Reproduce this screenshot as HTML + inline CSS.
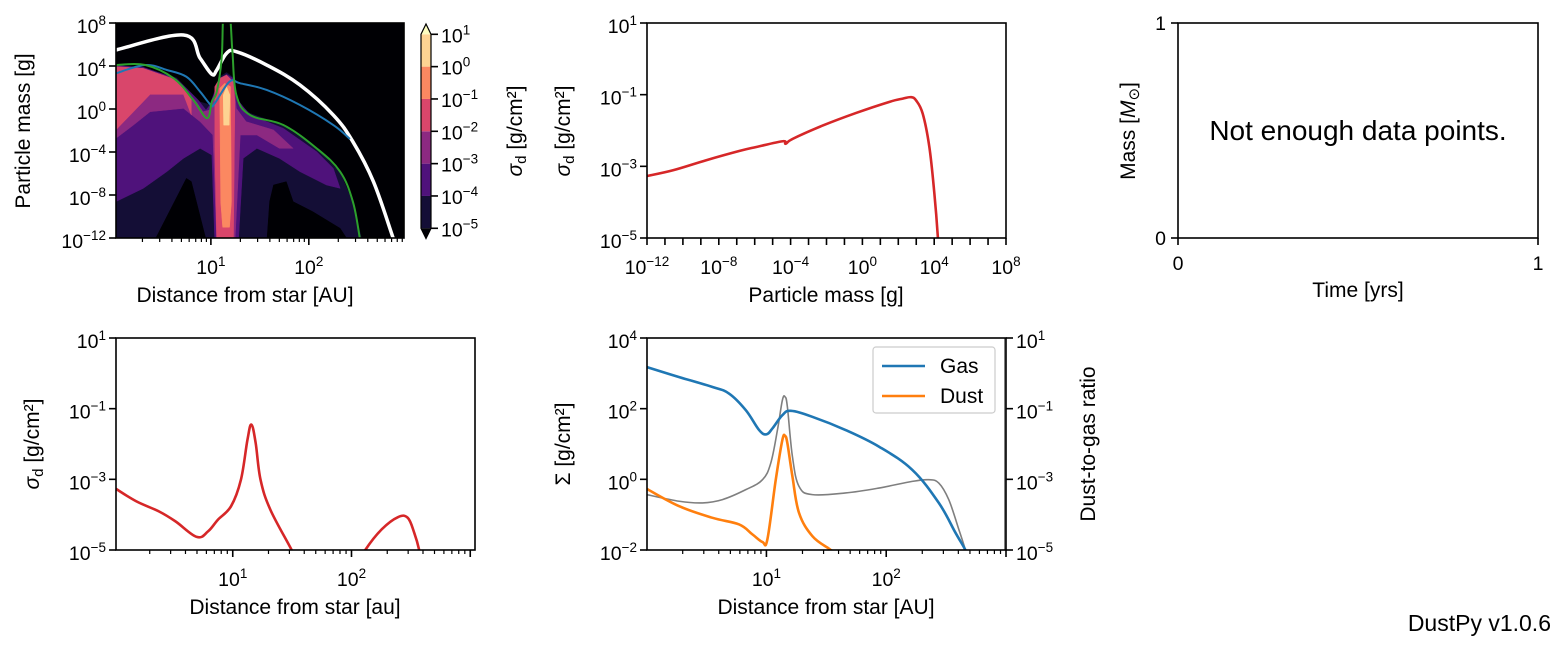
<!DOCTYPE html>
<html><head><meta charset="utf-8">
<style>
html,body{margin:0;padding:0;background:#fff;}
svg{display:block;font-family:"Liberation Sans","DejaVu Sans",sans-serif;}
</style></head>
<body>
<svg id="fig" width="1566" height="649" viewBox="0 0 1566 649" xmlns="http://www.w3.org/2000/svg">
<defs>
<clipPath id="c1"><rect x="116" y="23" width="288" height="215"/></clipPath>
<clipPath id="c2"><rect x="647" y="23" width="359" height="215"/></clipPath>
<clipPath id="c4"><rect x="116" y="338" width="359" height="212"/></clipPath>
<clipPath id="c5"><rect x="647" y="338" width="359" height="212"/></clipPath>
</defs>
</svg>
<script>
// ---------- data (log10 values) ----------
const levNavy = [[0.03,4.1],[0.31,3.8],[0.65,2.9],[0.89,0.65],[0.99,0.4],[1.09,3.0],[1.16,3.4],[1.22,3.0],[1.27,0.65],[1.40,-0.4],[1.73,-1.5],[2.08,-3.6],[2.32,-5.9],[2.45,-8.7],[2.55,-12.5],[-0.1,-12.5],[-0.1,4.1]];
const levHole1 = [[0.41,-12.5],[0.75,-6.45],[0.80,-6.75],[0.96,-12.5]];
const levHole2 = [[1.57,-12.5],[1.60,-8.6],[1.64,-7.07],[1.77,-6.76],[1.84,-8.62],[2.04,-9.55],[2.32,-11.1],[2.42,-12.5]];
const levPurple = [[-0.1,4.03],[0.03,4.03],[0.31,3.88],[0.65,2.79],[0.87,0.84],[0.95,-0.09],[0.99,0.37],[1.04,1.61],[1.09,2.85],[1.16,3.22],[1.23,2.85],[1.26,0.99],[1.40,-0.56],[1.74,-1.80],[2.08,-3.97],[2.25,-5.52],[2.32,-7.38],[2.18,-7.07],[1.91,-5.83],[1.70,-4.59],[1.47,-3.66],[1.33,-4.59],[1.28,-12.5],[1.04,-12.5],[1.01,-4.28],[0.89,-3.66],[0.72,-4.59],[0.55,-5.83],[0.31,-7.38],[0.03,-8.62],[-0.1,-8.62]];
const levMagenta = [[-0.1,3.94],[0.03,3.94],[0.31,3.78],[0.65,2.70],[0.85,0.68],[0.92,-0.25],[0.99,-0.09],[1.02,0.99],[1.09,2.54],[1.16,3.01],[1.23,2.54],[1.26,0.06],[1.36,-1.18],[1.64,-1.95],[1.84,-3.66],[1.70,-3.66],[1.47,-2.42],[1.30,-2.42],[1.245,-12.5],[1.06,-12.5],[1.02,-2.42],[0.89,-1.18],[0.72,0.06],[0.38,-0.25],[0.21,-1.49],[0.03,-2.73],[-0.1,-2.73]];
const levPinkLeft = [[-0.1,3.94],[0.03,3.94],[0.31,3.78],[0.65,2.70],[0.80,1.0],[0.80,-0.56],[0.72,1.36],[0.38,1.36],[0.21,-0.25],[0.03,-1.95],[-0.1,-1.95]];
const levPinkSpike = [[1.04,-3.66],[1.04,2.08],[1.09,2.85],[1.16,3.16],[1.23,2.54],[1.245,0.68],[1.23,-12.5],[1.06,-12.5]];
const levOrange = [[1.09,1.92],[1.14,2.39],[1.20,2.08],[1.21,-8.62],[1.19,-11],[1.12,-11],[1.10,-8.62]];
const levPale = [[1.126,1.3],[1.16,2.08],[1.194,1.3],[1.187,-1.5],[1.13,-1.5]];
const lineWhite = [[0.03,5.49],[0.72,6.88],[0.89,4.72],[1.01,3.23],[1.06,3.63],[1.16,5.18],[1.26,5.33],[1.57,4.09],[1.91,2.23],[2.25,-0.56],[2.45,-3.04],[2.66,-6.76],[2.86,-11.97],[2.9,-13]];
const lineBlue = [[0.03,3.32],[0.33,4.09],[0.55,3.63],[0.75,3.0],[0.89,1.61],[1.0,0.37],[1.04,0.53],[1.19,2.54],[1.30,2.39],[1.57,1.77],[1.91,0.37],[2.25,-1.49],[2.42,-2.79]];
const lineGreen = [[0.03,4.09],[0.33,4.09],[0.62,2.85],[0.82,0.84],[0.96,-0.86],[1.01,0.68],[1.06,1.61],[1.11,4.72],[1.13,9],[1.19,9],[1.22,5.33],[1.26,1.3],[1.40,-0.56],[1.74,-1.49],[2.08,-3.66],[2.32,-5.83],[2.45,-8.62],[2.52,-11.97],[2.54,-13]];
const massLog = [-12,-10.55,-8.70,-6.84,-5.91,-4.43,-4.28,-3.87,-2.20,-0.35,1.51,2.25,2.71,2.99,3.36,3.73,4.01,4.20,4.25];
const sigmaMass = [-3.27,-3.11,-2.83,-2.57,-2.46,-2.30,-2.37,-2.23,-1.86,-1.51,-1.20,-1.11,-1.07,-1.16,-1.53,-2.46,-3.76,-4.95,-5.6];
const radLog4 = [0.017,0.187,0.38,0.518,0.697,0.793,0.876,0.986,1.069,1.124,1.157,1.193,1.234,1.317,1.496,1.53,null,2.08,2.116,2.253,2.391,2.474,2.529,2.570,2.58];
const sigmaRad = [-3.27,-3.62,-3.91,-4.19,-4.63,-4.47,-4.14,-3.76,-3.01,-1.88,-1.45,-1.97,-3.01,-3.86,-5.0,-5.3,null,-5.3,-5.0,-4.42,-4.07,-4.09,-4.52,-5.0,-5.3];
const radGas = [0.003,0.272,0.55,0.689,0.828,0.939,1.0,1.05,1.133,1.203,1.383,1.661,1.939,2.217,2.439,2.578,2.661,2.68];
const sigGas = [3.175,2.894,2.613,2.425,1.957,1.395,1.273,1.441,1.816,1.938,1.77,1.395,0.926,0.27,-0.667,-1.51,-2.0,-2.2];
const radDust = [0.003,0.272,0.55,0.772,0.883,0.967,1.008,1.078,1.133,1.156,1.175,1.217,1.272,1.383,1.522,1.55,1.6];
const sigDust = [-0.274,-0.761,-1.089,-1.277,-1.558,-1.773,-1.698,-0.011,1.113,1.226,1.02,0.082,-0.949,-1.605,-1.961,-2.03,-2.2];
const radRatio = [0.003,0.272,0.467,0.633,0.828,0.967,1.036,1.092,1.133,1.156,1.175,1.217,1.272,1.383,1.661,1.939,2.217,2.356,2.439,2.522,2.606,2.661,2.68,null,2.99,2.99];
const ratioLog = [-3.433,-3.62,-3.667,-3.574,-3.292,-3.011,-2.543,-1.605,-0.762,-0.668,-0.95,-2.355,-3.199,-3.433,-3.386,-3.246,-3.058,-3.011,-3.105,-3.574,-4.417,-5.0,-5.3,null,-6,2];
const cbLevels = [-5,-4,-3,-2,-1,0,1];
const cbColors = ['#140e36','#4f127b','#8c2981','#d9466b','#fb8861','#fdd392'];

// ---------- helpers ----------
const NS='http://www.w3.org/2000/svg';
const svg=document.getElementById('fig');
const TF=19.5, SF=13.5, LF=21;
function mk(tag,attrs,parent){const e=document.createElementNS(NS,tag);for(const k in attrs)e.setAttribute(k,attrs[k]);(parent||svg).appendChild(e);return e;}
function lin(d0,d1,p0,p1){return v=>p0+(v-d0)/(d1-d0)*(p1-p0);}
function smoothSeg(pts){
  if(pts.length<3)return pts.map((p,i)=>(i?'L':'M')+p[0].toFixed(2)+','+p[1].toFixed(2)).join('');
  let d='M'+pts[0][0].toFixed(2)+','+pts[0][1].toFixed(2);
  for(let i=0;i<pts.length-1;i++){
    const p0=pts[Math.max(0,i-1)],p1=pts[i],p2=pts[i+1],p3=pts[Math.min(pts.length-1,i+2)];
    const t=0.18;
    const c1=[p1[0]+(p2[0]-p0[0])*t,p1[1]+(p2[1]-p0[1])*t];
    const c2=[p2[0]-(p3[0]-p1[0])*t,p2[1]-(p3[1]-p1[1])*t];
    d+='C'+c1[0].toFixed(2)+','+c1[1].toFixed(2)+' '+c2[0].toFixed(2)+','+c2[1].toFixed(2)+' '+p2[0].toFixed(2)+','+p2[1].toFixed(2);
  }
  return d;
}
function pathFrom(xs,ys,X,Y){let d='',seg=[];for(let i=0;i<xs.length;i++){if(xs[i]===null){d+=smoothSeg(seg);seg=[];continue;}seg.push([X(xs[i]),Y(ys[i])]);}if(seg.length)d+=smoothSeg(seg);return d;}
function polyFrom(pts,X,Y){return pts.map((p,i)=>(i?'L':'M')+X(p[0]).toFixed(2)+','+Y(p[1]).toFixed(2)).join('')+'Z';}
function pow10Label(x,y,exp,anchor,g){
  const t=mk('text',{x:x,y:y,'text-anchor':anchor,'font-size':TF,fill:'#000'},g);
  t.appendChild(document.createTextNode('10'));
  const s=mk('tspan',{dy:'-8','font-size':SF},t);s.textContent=(exp<0?'\u2212'+(-exp):String(exp));
  return t;
}
function frame(x0,y0,x1,y1,g){mk('rect',{x:x0,y:y0,width:x1-x0,height:y1-y0,fill:'none',stroke:'#000','stroke-width':'1.6'},g);}
function xLogTicks(X,lo,hi,yb,labels,g,minor){
  for(let d=Math.floor(lo);d<=Math.ceil(hi);d++){
    if(d>=lo-1e-6&&d<=hi+1e-6){mk('line',{x1:X(d),y1:yb,x2:X(d),y2:yb+7,stroke:'#000','stroke-width':'1.6'},g);
      if(labels.includes(d))pow10Label(X(d),yb+36,d,'middle',g);}
    if(minor)for(let k=2;k<10;k++){const v=d+Math.log10(k);if(v>lo&&v<hi)mk('line',{x1:X(v),y1:yb,x2:X(v),y2:yb+4,stroke:'#000','stroke-width':'1.2'},g);}
  }
}
function yLogTicks(Y,vals,xl,g,right){
  vals.forEach(v=>{mk('line',{x1:xl,y1:Y(v),x2:right?xl+7:xl-7,y2:Y(v),stroke:'#000','stroke-width':'1.6'},g);
    pow10Label(right?xl+10:xl-10,Y(v)+10,v,right?'start':'end',g);});
}
function label(x,y,txt,rot,g){
  const t=mk('text',{x:x,y:y,'text-anchor':'middle','font-size':LF,fill:'#000'},g);
  if(rot)t.setAttribute('transform','rotate(-90 '+x+' '+y+')');
  t.textContent=txt;return t;
}
function sigmaLabel(x,y,g){
  const t=mk('text',{x:x,y:y,'text-anchor':'middle','font-size':LF,fill:'#000',transform:'rotate(-90 '+x+' '+y+')'},g);
  const a=mk('tspan',{'font-style':'italic'},t);a.textContent='\u03c3';
  const b=mk('tspan',{dy:'4','font-size':'15'},t);b.textContent='d';
  const c=mk('tspan',{dy:'-4'},t);c.textContent=' [g/cm\u00b2]';
  return t;
}

// ---------- Panel 1 ----------
const p1=mk('g',{});


const X1=lin(0.031,2.972,116,404), Y1=lin(8,-12,23,238);
const c1=mk('g',{'clip-path':'url(#c1)'},p1);
mk('rect',{x:116,y:23,width:288,height:215,fill:'#000004'},c1);
[[levNavy,cbColors[0],'contour-level-1e-5'],[levHole1,'#000004','contour-hole-left'],[levHole2,'#000004','contour-hole-right'],[levPurple,cbColors[1],'contour-level-1e-4'],[levMagenta,cbColors[2],'contour-level-1e-3'],[levPinkLeft,cbColors[3],'contour-level-1e-2-left'],[levPinkSpike,cbColors[3],'contour-level-1e-2-spike'],[levOrange,cbColors[4],'contour-level-1e-1'],[levPale,cbColors[5],'contour-level-1e0']].forEach(a=>{
  const p=mk('path',{d:polyFrom(a[0],X1,Y1),fill:a[1],stroke:a[1],'stroke-width':'0.5','stroke-linejoin':'round'},c1);
  
  
});
[[lineWhite,'#ffffff',3.5,'fragmentation-limit-line'],[lineBlue,'#1f77b4',2,'drift-limit-line'],[lineGreen,'#2ca02c',2,'stokes-unity-line']].forEach(a=>{
  const p=mk('path',{d:pathFrom(a[0].map(q=>q[0]),a[0].map(q=>q[1]),X1,Y1),fill:'none',stroke:a[1],'stroke-width':a[2]},c1);
  
  
});
frame(116,23,404,238,p1);
xLogTicks(X1,0.031,2.972,238,[1,2],p1,true);
yLogTicks(Y1,[8,4,0,-4,-8,-12],116,p1,false);
const l1=label(30,131,'Particle mass [g]',true,p1);


const l2=label(245,302,'Distance from star [AU]',false,p1);


const cb=mk('g',{},p1);


const YC=lin(1,-5,34.3,228.3);
for(let i=0;i<cbColors.length;i++){
  const r=mk('rect',{x:421,y:YC(cbLevels[i+1]),width:10,height:YC(cbLevels[i])-YC(cbLevels[i+1]),fill:cbColors[i]},cb);
  
  
}
mk('path',{d:'M421,34.3L426,24L431,34.3Z',fill:'#fcfdbf'},cb);
mk('path',{d:'M421,228.3L426,238.5L431,228.3Z',fill:'#000004'},cb);
mk('path',{d:'M421,34.3L426,24L431,34.3L431,228.3L426,238.5L421,228.3Z',fill:'none',stroke:'#000','stroke-width':'1.2'},cb);
cbLevels.forEach(v=>{mk('line',{x1:431,y1:YC(v),x2:438,y2:YC(v),stroke:'#000','stroke-width':'1.6'},cb);pow10Label(441,YC(v)+8,v,'start',cb);});
const l3=sigmaLabel(522,131,cb);



// ---------- Panel 2 ----------
const p2=mk('g',{});


const X2=lin(-12,8,647,1006), Y2=lin(1,-5,23,238);
const c2=mk('g',{'clip-path':'url(#c2)'},p2);
const r2=mk('path',{d:pathFrom(massLog,sigmaMass,X2,Y2),fill:'none',stroke:'#d62728','stroke-width':'2.6'},c2);


frame(647,23,1006,238,p2);
xLogTicks(X2,-12,8,238,[-12,-8,-4,0,4,8],p2,false);
yLogTicks(Y2,[1,-1,-3,-5],647,p2,false);
const l4=sigmaLabel(570,131,p2);


const l5=label(826,302,'Particle mass [g]',false,p2);



// ---------- Panel 3 ----------
const p3=mk('g',{});


frame(1178,23,1538,238,p3);
[[1178,'0'],[1538,'1']].forEach(a=>{mk('line',{x1:a[0],y1:238,x2:a[0],y2:245,stroke:'#000','stroke-width':'1.6'},p3);const t=mk('text',{x:a[0],y:270,'text-anchor':'middle','font-size':TF},p3);t.textContent=a[1];});
[[238,'0'],[23,'1']].forEach(a=>{mk('line',{x1:1178,y1:a[0],x2:1171,y2:a[0],stroke:'#000','stroke-width':'1.6'},p3);const t=mk('text',{x:1166,y:a[0]+7,'text-anchor':'end','font-size':TF},p3);t.textContent=a[1];});
const nd=mk('text',{x:1358,y:140,'text-anchor':'middle','font-size':'28'},p3);nd.textContent='Not enough data points.';


const m3=mk('text',{x:1135,y:131,'text-anchor':'middle','font-size':LF,transform:'rotate(-90 1135 131)'},p3);


m3.appendChild(document.createTextNode('Mass ['));
const mi=mk('tspan',{'font-style':'italic'},m3);mi.textContent='M';
const ms=mk('tspan',{dy:'4','font-size':'15'},m3);ms.textContent='\u2299';
const me=mk('tspan',{dy:'-4'},m3);me.textContent=']';
const t3=label(1358,297,'Time [yrs]',false,p3);



// ---------- Panel 4 ----------
const p4=mk('g',{});


const X4=lin(0.017,3.04,116,475), Y4=lin(1,-5,338,550);
const c4=mk('g',{'clip-path':'url(#c4)'},p4);
const r4=mk('path',{d:pathFrom(radLog4,sigmaRad,X4,Y4),fill:'none',stroke:'#d62728','stroke-width':'2.6'},c4);


frame(116,338,475,550,p4);
xLogTicks(X4,0.017,3.04,550,[1,2],p4,true);
yLogTicks(Y4,[1,-1,-3,-5],116,p4,false);
const l6=sigmaLabel(39,444,p4);


const l7=label(295,614,'Distance from star [au]',false,p4);



// ---------- Panel 5 ----------
const p5=mk('g',{});


const X5=lin(0.003,3.0,647,1006), Y5=lin(4,-2,338,550), Y5r=lin(1,-5,338,550);
const c5=mk('g',{'clip-path':'url(#c5)'},p5);
const gr=mk('path',{d:pathFrom(radRatio,ratioLog,X5,Y5r),fill:'none',stroke:'#7f7f7f','stroke-width':'1.6'},c5);


const gg=mk('path',{d:pathFrom(radGas,sigGas,X5,Y5),fill:'none',stroke:'#1f77b4','stroke-width':'2.6'},c5);


const gd=mk('path',{d:pathFrom(radDust,sigDust,X5,Y5),fill:'none',stroke:'#ff7f0e','stroke-width':'2.6'},c5);


frame(647,338,1006,550,p5);
xLogTicks(X5,0.003,3.0,550,[1,2],p5,true);
yLogTicks(Y5,[4,2,0,-2],647,p5,false);
yLogTicks(Y5r,[1,-1,-3,-5],1006,p5,true);
const l8=mk('text',{x:570,y:444,'text-anchor':'middle','font-size':LF,transform:'rotate(-90 570 444)'},p5);
l8.textContent='\u03a3 [g/cm\u00b2]';


const l9=label(1095,444,'Dust-to-gas ratio',true,p5);


const l10=label(826,614,'Distance from star [AU]',false,p5);


const lg=mk('g',{},p5);


mk('rect',{x:873,y:347,width:122,height:66,rx:3,fill:'#fff','fill-opacity':'0.8',stroke:'#cccccc','stroke-width':'1.2'},lg);
[['Gas','#1f77b4',366,'legend-entry-gas'],['Dust','#ff7f0e',396,'legend-entry-dust']].forEach(a=>{
  const e=mk('g',{},lg);
  
  
  mk('line',{x1:882,y1:a[2],x2:925,y2:a[2],stroke:a[1],'stroke-width':'2.6'},e);
  const t=mk('text',{x:940,y:a[2]+7,'font-size':LF},e);t.textContent=a[0];
});

const v=mk('text',{x:1551,y:631,'text-anchor':'end','font-size':'23'});
v.textContent='DustPy v1.0.6';


</script>
</body></html>
